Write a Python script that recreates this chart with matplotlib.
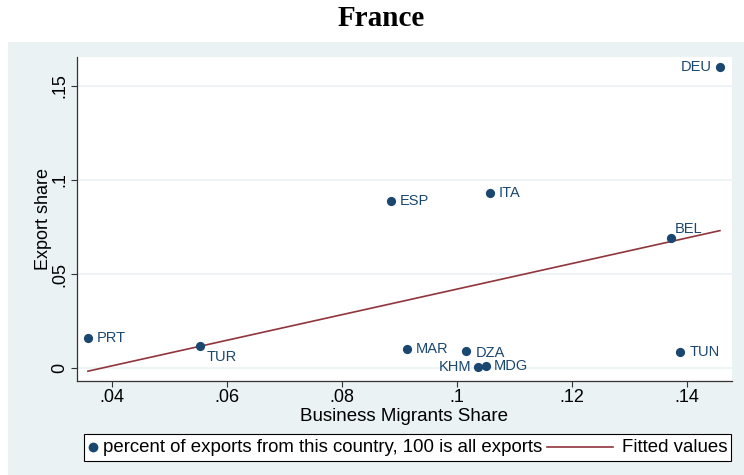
import numpy as np
import matplotlib.pyplot as plt
from matplotlib.patches import Rectangle
from matplotlib.lines import Line2D

plt.rcParams['font.family'] = ['Liberation Sans', 'DejaVu Sans']

# country codes, business migrants share and export share
countries = ['PRT', 'TUR', 'ESP', 'ITA', 'MAR', 'DZA', 'KHM', 'MDG', 'TUN', 'BEL', 'DEU']
migrant_share = [0.0358, 0.0553, 0.0885, 0.1057, 0.0913, 0.1016, 0.1037, 0.1050, 0.1388, 0.1372, 0.1457]
export_share = [0.0160, 0.0117, 0.0888, 0.0931, 0.0101, 0.0090, 0.0005, 0.0010, 0.0085, 0.0690, 0.1600]

x_ticks = [0.04, 0.06, 0.08, 0.10, 0.12, 0.14]
x_tick_labels = ['.04', '.06', '.08', '.1', '.12', '.14']
y_ticks = [0, 0.05, 0.10, 0.15]
y_tick_labels = ['0', '.05', '.1', '.15']

# label placement per point (offset in points, horizontal alignment)
label_pos = {
    'PRT': (6.5, 0, 'left'), 'TUR': (5, -8, 'left'), 'ESP': (6, 0, 'left'),
    'ITA': (6.5, 0, 'left'), 'MAR': (6.5, 0, 'left'), 'DZA': (6.5, -1.5, 'left'),
    'KHM': (-5, 0, 'right'), 'MDG': (6, 0, 'left'), 'TUN': (7, 0, 'left'),
    'BEL': (3, 6.5, 'left'), 'DEU': (-6, 0, 'right'),
}

navy = '#1a476f'
maroon = '#90353b'
panel = '#eaf2f3'

fig = plt.figure(figsize=(7.44, 4.75), dpi=100)
fig.patch.set_facecolor('white')
fig.patches.append(Rectangle((8 / 744, 0), 1, 1 - 42 / 475, transform=fig.transFigure,
                             facecolor=panel, edgecolor='none', zorder=-10))

ax = fig.add_axes([77 / 744, 1 - 381 / 475, (732 - 77) / 744, (381 - 57) / 475])
ax.set_facecolor('white')

x = np.array(migrant_share)
y = np.array(export_share)

# linear fit
slope, intercept = np.polyfit(x, y, 1)
xf = np.array([x.min(), x.max()])
ax.plot(xf, slope * xf + intercept, color=maroon, lw=1.2, zorder=2)

ax.scatter(x, y, s=44, color=navy, zorder=3, linewidths=0)
for name, xi, yi in zip(countries, x, y):
    dx, dy, ha = label_pos[name]
    ax.annotate(name, (xi, yi), xytext=(dx, dy), textcoords='offset points',
                ha=ha, va='center', color=navy, fontsize=10.5)

ax.set_xlim(0.0339, 0.1478)
ax.set_ylim(-0.0069, 0.1654)
ax.set_xticks(x_ticks)
ax.set_xticklabels(x_tick_labels)
ax.set_yticks(y_ticks)
ax.set_yticklabels(y_tick_labels, rotation=90, va='center')
ax.tick_params(axis='both', labelsize=13, length=4, width=0.8, color='#333333', pad=2)
ax.grid(axis='y', color=panel, lw=1.2)
ax.set_axisbelow(True)
for side in ['top', 'right']:
    ax.spines[side].set_visible(False)
for side in ['left', 'bottom']:
    ax.spines[side].set_color('#333333')
    ax.spines[side].set_linewidth(0.9)

ax.set_xlabel('Business Migrants Share', fontsize=13.5, labelpad=1)
ax.set_ylabel('Export share', fontsize=13, labelpad=0)

fig.text(381 / 744, 1 - 19 / 475, 'France', ha='center', va='center',
         fontsize=21, fontweight='bold', family='Liberation Serif')

# legend box
fig.patches.append(Rectangle((84 / 744, 1 - 461 / 475), (731 - 84) / 744, 27 / 475,
                             transform=fig.transFigure, facecolor='white',
                             edgecolor='black', lw=0.8, zorder=1))
ly = 1 - 447 / 475
fig.lines.append(Line2D([93 / 744], [ly], marker='o', ms=6, color=navy, ls='none',
                        transform=fig.transFigure))
fig.text(103 / 744, ly, 'percent of exports from this country, 100 is all exports',
         ha='left', va='center', fontsize=13.4)
fig.lines.append(Line2D([547 / 744, 613 / 744], [ly, ly], color=maroon, lw=1.2,
                        transform=fig.transFigure))
fig.text(622 / 744, ly, 'Fitted values', ha='left', va='center', fontsize=13.4)

fig.savefig('out.png', dpi=100)
